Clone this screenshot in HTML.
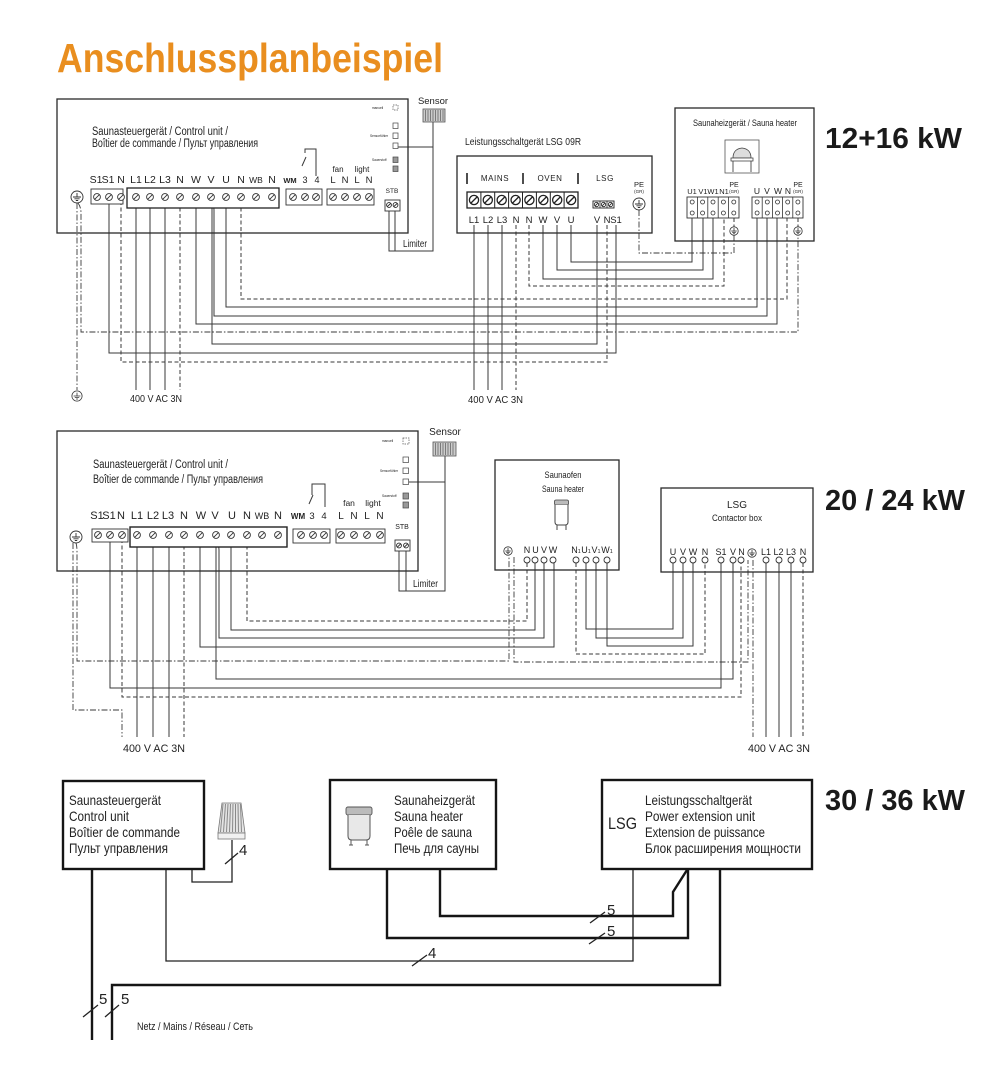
<!DOCTYPE html>
<html><head><meta charset="utf-8">
<style>
html,body{margin:0;padding:0;background:#fff}
svg{display:block}
text{font-family:"Liberation Sans","DejaVu Sans",sans-serif;fill:#222}
.s{fill:none;stroke:#3a3a3a;stroke-width:1}
.d{fill:none;stroke:#3a3a3a;stroke-width:1;stroke-dasharray:4 2.5}
.dd{fill:none;stroke:#3a3a3a;stroke-width:.9;stroke-dasharray:6 2 1.5 2}
.b{fill:none;stroke:#2a2a2a;stroke-width:1.3}
.bb{fill:none;stroke:#222;stroke-width:1.6}
.t{fill:none;stroke:#151515;stroke-width:2.4}
.tn{fill:none;stroke:#222;stroke-width:1.3}
</style></head><body>
<svg width="998" height="1080" viewBox="0 0 998 1080" xmlns="http://www.w3.org/2000/svg">
<defs>
<g id="t"><circle r="3.4" fill="#fff" stroke="#333" stroke-width=".9"/><line x1="-2.2" y1="2.2" x2="2.2" y2="-2.2" stroke="#333" stroke-width=".9"/></g>
<g id="T"><circle r="4.6" fill="#fff" stroke="#222" stroke-width="1.3"/><line x1="-3" y1="3" x2="3" y2="-3" stroke="#222" stroke-width="1.3"/></g>
<g id="st"><circle r="2.4" fill="#fff" stroke="#222" stroke-width=".9"/><line x1="-1.6" y1="1.6" x2="1.6" y2="-1.6" stroke="#222" stroke-width=".9"/></g>
<g id="o"><circle r="2" fill="#fff" stroke="#333" stroke-width=".8"/></g>
<g id="O"><circle r="3" fill="#fff" stroke="#333" stroke-width=".9"/></g>
<g id="g"><circle r="6" fill="#fff" stroke="#333" stroke-width=".9"/><path d="M0,-4V0M-4,0H4M-2.6,1.8H2.6M-1.2,3.5H1.2" stroke="#333" stroke-width=".9" fill="none"/></g>
<g id="gs"><circle r="4.2" fill="#fff" stroke="#333" stroke-width=".8"/><path d="M0,-3V0M-2.8,0H2.8M-1.8,1.3H1.8M-.8,2.5H.8" stroke="#333" stroke-width=".8" fill="none"/></g>
</defs>

<!-- Title -->
<text x="57" y="72" font-size="41" font-weight="bold" style="fill:#E98E1F" textLength="386" lengthAdjust="spacingAndGlyphs">Anschlussplanbeispiel</text>

<!-- ===================== TOP SECTION ===================== -->
<text x="825" y="148" font-size="29" font-weight="bold" style="fill:#1a1a1a" textLength="137" lengthAdjust="spacingAndGlyphs">12+16 kW</text>

<!-- wires -->
<path class="s" d="M109,201V353H616V225"/>
<path class="d" d="M121,201V362H607V225"/>
<path class="s" d="M136,201V390M150,201V390M165,201V390"/>
<path class="d" d="M180,201V390"/>
<path class="s" d="M196,201V324H777V218"/>
<path class="s" d="M211,201Q214,204 214,210V316H767V218"/>
<path class="s" d="M211,201L212,206V344H597V225"/>
<path class="s" d="M226,201V307H757V218"/>
<path class="d" d="M241,201V299H787V218"/>
<path class="dd" d="M77,203V390"/>
<path class="dd" d="M78,203Q81,207 81,213V332H798V235"/>
<path class="s" d="M474,225V390M488,225V390M502,225V390"/>
<path class="d" d="M516,225V390"/>
<path class="d" d="M529,225V286H724V218"/>
<path class="s" d="M543,225V279H713V218"/>
<path class="s" d="M557,225V270H703V218"/>
<path class="s" d="M571,225V262H692V218"/>
<path class="dd" d="M639,210V253H734V235"/>
<path class="d" d="M734,218V227M798,218V227"/>
<path class="s" d="M433,122V251H389V211M395,211V251"/>
<path class="s" d="M398,147H433"/>
<use href="#g" x="77" y="396" transform="translate(77 396) scale(.85) translate(-77 -396)"/>
<text x="130" y="402" font-size="10" textLength="52" lengthAdjust="spacingAndGlyphs">400 V AC 3N</text>
<text x="468" y="403" font-size="10" textLength="55" lengthAdjust="spacingAndGlyphs">400 V AC 3N</text>

<!-- control unit -->
<rect x="57" y="99" width="351" height="134" class="b"/>
<text x="92" y="135" font-size="11.5" textLength="136" lengthAdjust="spacingAndGlyphs">Saunasteuergerät / Control unit /</text>
<text x="92" y="147" font-size="11.5" textLength="166" lengthAdjust="spacingAndGlyphs">Boîtier de commande / Пульт управления</text>
<g font-size="10.5" text-anchor="middle">
<text x="96" y="183">S1</text><text x="108" y="183">S1</text><text x="121" y="183">N</text>
<text x="136" y="183">L1</text><text x="150" y="183">L2</text><text x="165" y="183">L3</text><text x="180" y="183">N</text>
<text x="196" y="183">W</text><text x="211" y="183">V</text><text x="226" y="183">U</text><text x="241" y="183">N</text>
<text x="256" y="183" font-size="8.5">WB</text><text x="272" y="183">N</text>
<text x="290" y="183" font-size="7.5" font-weight="bold">WM</text><text x="305" y="183" font-size="9">3</text><text x="317" y="183" font-size="9">4</text>
<text x="338" y="172" font-size="8">fan</text><text x="362" y="172" font-size="8">light</text>
<text x="333" y="183" font-size="9.5">L</text><text x="345" y="183" font-size="9.5">N</text><text x="357" y="183" font-size="9.5">L</text><text x="369" y="183" font-size="9.5">N</text>
<text x="392" y="193" font-size="6.5">STB</text>
</g>
<rect x="91" y="189" width="32" height="15" fill="#fff" stroke="#333" stroke-width=".9"/>
<rect x="127" y="188" width="152" height="20" fill="#fff" stroke="#222" stroke-width="1.3"/>
<rect x="286" y="189" width="36" height="16" fill="#fff" stroke="#333" stroke-width=".9"/>
<rect x="327" y="189" width="47" height="16" fill="#fff" stroke="#333" stroke-width=".9"/>
<use href="#t" x="97" y="197"/><use href="#t" x="109" y="197"/><use href="#t" x="121" y="197"/>
<use href="#t" x="136" y="197"/><use href="#t" x="150" y="197"/><use href="#t" x="165" y="197"/><use href="#t" x="180" y="197"/><use href="#t" x="196" y="197"/><use href="#t" x="211" y="197"/><use href="#t" x="226" y="197"/><use href="#t" x="241" y="197"/><use href="#t" x="256" y="197"/><use href="#t" x="272" y="197"/>
<use href="#t" x="293" y="197"/><use href="#t" x="305" y="197"/><use href="#t" x="316" y="197"/>
<use href="#t" x="333" y="197"/><use href="#t" x="345" y="197"/><use href="#t" x="357" y="197"/><use href="#t" x="369" y="197"/>
<path class="s" d="M305,153V149H316V176"/><path class="s" d="M302,166L306,157"/>
<rect x="385" y="200" width="15" height="11" fill="#fff" stroke="#333" stroke-width=".9"/>
<use href="#st" x="389" y="205"/><use href="#st" x="395.5" y="205"/>
<use href="#g" x="77" y="197"/>
<!-- indicators -->
<rect x="393" y="105" width="5" height="5" fill="#fff" stroke="#555" stroke-width=".7" stroke-dasharray="1.5 1"/>
<rect x="393" y="123" width="5" height="5.5" fill="#fff" stroke="#444" stroke-width=".7"/>
<rect x="393" y="133" width="5" height="5.5" fill="#fff" stroke="#444" stroke-width=".7"/>
<rect x="393" y="143" width="5" height="5.5" fill="#fff" stroke="#444" stroke-width=".7"/>
<rect x="393" y="157" width="5" height="5.5" fill="#999" stroke="#444" stroke-width=".7"/>
<rect x="393" y="166" width="5" height="5.5" fill="#999" stroke="#444" stroke-width=".7"/>
<g font-size="3.2" style="fill:#444"><text x="372" y="109">manuell</text><text x="370" y="137">Sensorfühler</text><text x="372" y="161">Sauerstoff</text></g>
<!-- sensor -->
<text x="433" y="104" font-size="9.5" text-anchor="middle">Sensor</text>
<rect x="423" y="109" width="22" height="13" fill="#ccc" stroke="#555" stroke-width=".8"/>
<path d="M425.5,110V121M428,110V121M430.5,110V121M433,110V121M435.5,110V121M438,110V121M440.5,110V121M443,110V121" stroke="#666" stroke-width=".8"/>
<text x="403" y="247" font-size="10" textLength="24" lengthAdjust="spacingAndGlyphs">Limiter</text>

<!-- LSG 09R -->
<text x="465" y="145" font-size="10.5" textLength="116" lengthAdjust="spacingAndGlyphs">Leistungsschaltgerät LSG 09R</text>
<rect x="457" y="156" width="195" height="77" class="b"/>
<path d="M467,173V184M523,173V184M578,173V184" stroke="#222" stroke-width="1.6"/>
<g font-size="8" text-anchor="middle" letter-spacing=".6">
<text x="495" y="181">MAINS</text><text x="550" y="181">OVEN</text><text x="605" y="181">LSG</text>
</g>
<rect x="467" y="192" width="111" height="16" fill="#fff" stroke="#222" stroke-width="1.3"/>
<path d="M480.9,192V208M494.7,192V208M508.6,192V208M522.5,192V208M536.4,192V208M550.3,192V208M564.1,192V208" stroke="#222" stroke-width="1"/>
<use href="#T" x="474" y="200"/><use href="#T" x="487.8" y="200"/><use href="#T" x="501.7" y="200"/><use href="#T" x="515.6" y="200"/><use href="#T" x="529.4" y="200"/><use href="#T" x="543.3" y="200"/><use href="#T" x="557.2" y="200"/><use href="#T" x="571.1" y="200"/>
<g font-size="9.5" text-anchor="middle">
<text x="474" y="223">L1</text><text x="488" y="223">L2</text><text x="502" y="223">L3</text><text x="516" y="223">N</text><text x="529" y="223">N</text><text x="543" y="223">W</text><text x="557" y="223">V</text><text x="571" y="223">U</text>
<text x="597" y="223">V</text><text x="607" y="223">N</text><text x="616" y="223">S1</text>
<text x="639" y="187" font-size="7.5">PE</text><text x="639" y="193" font-size="4.5">(GR)</text>
</g>
<rect x="593" y="201" width="21" height="7" fill="#fff" stroke="#222" stroke-width=".9"/>
<path d="M600,201V208M607,201V208" stroke="#222" stroke-width=".8"/>
<use href="#st" x="596.5" y="204.5" transform="translate(596.5 204.5) scale(.9) translate(-596.5 -204.5)"/>
<use href="#st" x="603.5" y="204.5" transform="translate(603.5 204.5) scale(.9) translate(-603.5 -204.5)"/>
<use href="#st" x="610.5" y="204.5" transform="translate(610.5 204.5) scale(.9) translate(-610.5 -204.5)"/>
<use href="#g" x="639" y="204"/>

<!-- heater top -->
<rect x="675" y="108" width="139" height="133" class="b"/>
<text x="745" y="126" font-size="9.5" text-anchor="middle" textLength="104" lengthAdjust="spacingAndGlyphs">Saunaheizgerät / Sauna heater</text>
<rect x="725" y="140" width="34" height="33" fill="#fff" stroke="#555" stroke-width=".8"/>
<path d="M733,158Q733,149 742,148Q751,149 751,158Z" fill="#ddd" stroke="#444" stroke-width=".8"/>
<rect x="731" y="158" width="22" height="3" fill="#fff" stroke="#444" stroke-width=".8"/>
<path d="M733,161V172M751,161V172" stroke="#444" stroke-width=".9"/>
<g font-size="7.5" text-anchor="middle">
<text x="692" y="194">U1</text><text x="703" y="194">V1</text><text x="713" y="194">W1</text><text x="724" y="194">N1</text>
<text x="734" y="187" font-size="7">PE</text><text x="734" y="193" font-size="4.5">(GR)</text>
<text x="757" y="194" font-size="8.5">U</text><text x="767" y="194" font-size="8.5">V</text><text x="778" y="194" font-size="8.5">W</text><text x="788" y="194" font-size="8.5">N</text>
<text x="798" y="187" font-size="7">PE</text><text x="798" y="193" font-size="4.5">(GR)</text>
</g>
<rect x="687" y="197" width="52" height="21" fill="#fff" stroke="#333" stroke-width=".9"/>
<path d="M697.4,197V218M707.8,197V218M718.2,197V218M728.6,197V218" stroke="#333" stroke-width=".8"/>
<rect x="752" y="197" width="51" height="21" fill="#fff" stroke="#333" stroke-width=".9"/>
<path d="M762.2,197V218M772.4,197V218M782.6,197V218M792.8,197V218" stroke="#333" stroke-width=".8"/>
<use href="#o" x="692.2" y="202"/><use href="#o" x="702.6" y="202"/><use href="#o" x="713" y="202"/><use href="#o" x="723.4" y="202"/><use href="#o" x="733.8" y="202"/>
<use href="#o" x="692.2" y="213"/><use href="#o" x="702.6" y="213"/><use href="#o" x="713" y="213"/><use href="#o" x="723.4" y="213"/><use href="#o" x="733.8" y="213"/>
<use href="#o" x="757.1" y="202"/><use href="#o" x="767.3" y="202"/><use href="#o" x="777.5" y="202"/><use href="#o" x="787.7" y="202"/><use href="#o" x="797.9" y="202"/>
<use href="#o" x="757.1" y="213"/><use href="#o" x="767.3" y="213"/><use href="#o" x="777.5" y="213"/><use href="#o" x="787.7" y="213"/><use href="#o" x="797.9" y="213"/>
<use href="#gs" x="734" y="231"/><use href="#gs" x="798" y="231"/>

<!-- ===================== MIDDLE SECTION ===================== -->
<text x="825" y="510" font-size="29" font-weight="bold" style="fill:#1a1a1a" textLength="140" lengthAdjust="spacingAndGlyphs">20 / 24 kW</text>

<path class="dd" d="M73,543V710H122V737"/>
<path class="dd" d="M76,543Q77,546 77,551V661H509V557"/>
<path class="dd" d="M514,557V662H748V560"/>
<path class="dd" d="M753,560V737"/>
<path class="s" d="M110,539V688H721V563"/>
<path class="d" d="M122,539V697H741V563"/>
<path class="s" d="M137,539V737M153,539V737M169,539V737"/>
<path class="d" d="M184,539V737"/>
<path class="s" d="M200,539V647H554V563"/>
<path class="s" d="M216,539Q219,544 219,550V638H544V563"/>
<path class="s" d="M216,539V679H733V563"/>
<path class="s" d="M231,539V630H535V563"/>
<path class="d" d="M247,539V621H527V563"/>
<path class="d" d="M576,563V654H705V563"/>
<path class="s" d="M586,563V629H673V563"/>
<path class="s" d="M596,563V638H683V563"/>
<path class="s" d="M607,563V646H693V563"/>
<path class="s" d="M766,563V737M779,563V737M791,563V737"/>
<path class="d" d="M803,563V737"/>
<path class="s" d="M445,456V591H399V551M406,551V591"/>
<path class="s" d="M409,482H445"/>
<text x="123" y="752" font-size="11" textLength="62" lengthAdjust="spacingAndGlyphs">400 V AC 3N</text>
<text x="748" y="752" font-size="11" textLength="62" lengthAdjust="spacingAndGlyphs">400 V AC 3N</text>

<!-- control unit mid -->
<rect x="57" y="431" width="361" height="140" class="b"/>
<text x="93" y="468" font-size="11.5" textLength="135" lengthAdjust="spacingAndGlyphs">Saunasteuergerät / Control unit /</text>
<text x="93" y="483" font-size="11.5" textLength="170" lengthAdjust="spacingAndGlyphs">Boîtier de commande / Пульт управления</text>
<g font-size="11" text-anchor="middle">
<text x="97" y="519">S1</text><text x="109" y="519">S1</text><text x="121" y="519">N</text>
<text x="137" y="519">L1</text><text x="153" y="519">L2</text><text x="168" y="519">L3</text><text x="184" y="519">N</text>
<text x="201" y="519">W</text><text x="215" y="519">V</text><text x="232" y="519">U</text><text x="247" y="519">N</text>
<text x="262" y="519" font-size="9">WB</text><text x="278" y="519">N</text>
<text x="298" y="519" font-size="8" font-weight="bold">WM</text><text x="312" y="519" font-size="9.5">3</text><text x="324" y="519" font-size="9.5">4</text>
<text x="349" y="506" font-size="8.5">fan</text><text x="373" y="506" font-size="8.5">light</text>
<text x="341" y="519" font-size="10">L</text><text x="354" y="519" font-size="10">N</text><text x="367" y="519" font-size="10">L</text><text x="380" y="519" font-size="10">N</text>
<text x="402" y="529" font-size="7">STB</text>
</g>
<rect x="92" y="529" width="36" height="13" fill="#fff" stroke="#333" stroke-width=".9"/>
<rect x="130" y="527" width="157" height="20" fill="#fff" stroke="#222" stroke-width="1.4"/>
<rect x="293" y="529" width="37" height="14" fill="#fff" stroke="#333" stroke-width=".9"/>
<rect x="336" y="529" width="49" height="14" fill="#fff" stroke="#333" stroke-width=".9"/>
<use href="#t" x="98" y="535"/><use href="#t" x="110" y="535"/><use href="#t" x="122" y="535"/>
<use href="#t" x="137" y="535"/><use href="#t" x="153" y="535"/><use href="#t" x="169" y="535"/><use href="#t" x="184" y="535"/><use href="#t" x="200" y="535"/><use href="#t" x="216" y="535"/><use href="#t" x="231" y="535"/><use href="#t" x="247" y="535"/><use href="#t" x="262" y="535"/><use href="#t" x="278" y="535"/>
<use href="#t" x="301" y="535"/><use href="#t" x="313" y="535"/><use href="#t" x="324" y="535"/>
<use href="#t" x="341" y="535"/><use href="#t" x="354" y="535"/><use href="#t" x="367" y="535"/><use href="#t" x="380" y="535"/>
<path class="s" d="M312,495V484H325V507"/><path class="s" d="M309,504L313,495"/>
<rect x="395" y="540" width="15" height="11" fill="#fff" stroke="#333" stroke-width=".9"/>
<use href="#st" x="399" y="545.5"/><use href="#st" x="406" y="545.5"/>
<use href="#g" x="76" y="537"/>
<rect x="403" y="438" width="6" height="6" fill="#fff" stroke="#555" stroke-width=".7" stroke-dasharray="1.5 1"/>
<rect x="403" y="457" width="5.5" height="5.5" fill="#fff" stroke="#444" stroke-width=".7"/>
<rect x="403" y="468" width="5.5" height="5.5" fill="#fff" stroke="#444" stroke-width=".7"/>
<rect x="403" y="479" width="5.5" height="5.5" fill="#fff" stroke="#444" stroke-width=".7"/>
<rect x="403" y="493" width="5.5" height="6" fill="#999" stroke="#444" stroke-width=".7"/>
<rect x="403" y="502" width="5.5" height="6" fill="#999" stroke="#444" stroke-width=".7"/>
<g font-size="3.2" style="fill:#444"><text x="382" y="442">manuell</text><text x="380" y="472">Sensorfühler</text><text x="382" y="497">Sauerstoff</text></g>
<text x="445" y="435" font-size="10" text-anchor="middle">Sensor</text>
<rect x="433" y="442" width="23" height="14" fill="#ccc" stroke="#555" stroke-width=".8"/>
<path d="M435.5,443V455M438,443V455M440.5,443V455M443,443V455M445.5,443V455M448,443V455M450.5,443V455M453,443V455" stroke="#666" stroke-width=".8"/>
<text x="413" y="587" font-size="10" textLength="25" lengthAdjust="spacingAndGlyphs">Limiter</text>

<!-- heater mid -->
<rect x="495" y="460" width="124" height="110" class="b"/>
<text x="563" y="478" font-size="9.5" text-anchor="middle" textLength="37" lengthAdjust="spacingAndGlyphs">Saunaofen</text>
<text x="563" y="492" font-size="9.5" text-anchor="middle" textLength="42" lengthAdjust="spacingAndGlyphs">Sauna heater</text>
<rect x="554.5" y="500" width="14" height="5" rx="1.5" fill="#bbb" stroke="#444" stroke-width=".8"/>
<path d="M555,505V522Q555,525 558,525H565Q568,525 568,522V505" fill="#fff" stroke="#444" stroke-width="1"/>
<path d="M557,525V530M566,525V530" stroke="#444" stroke-width="1"/>
<g font-size="9" text-anchor="middle">
<text x="527" y="553">N</text><text x="535.5" y="553">U</text><text x="544" y="553">V</text><text x="553" y="553">W</text>
<text x="576" y="553">N<tspan font-size="5.5">1</tspan></text><text x="586" y="553">U<tspan font-size="5.5">1</tspan></text><text x="596" y="553">V<tspan font-size="5.5">1</tspan></text><text x="607" y="553">W<tspan font-size="5.5">1</tspan></text>
</g>
<use href="#O" x="527" y="560"/><use href="#O" x="535" y="560"/><use href="#O" x="544" y="560"/><use href="#O" x="553" y="560"/>
<use href="#O" x="576" y="560"/><use href="#O" x="586" y="560"/><use href="#O" x="596" y="560"/><use href="#O" x="607" y="560"/>
<use href="#gs" x="508" y="551"/>

<!-- LSG contactor box -->
<rect x="661" y="488" width="152" height="84" class="b"/>
<text x="737" y="508" font-size="10" text-anchor="middle">LSG</text>
<text x="737" y="521" font-size="9" text-anchor="middle" textLength="50" lengthAdjust="spacingAndGlyphs">Contactor box</text>
<g font-size="9" text-anchor="middle">
<text x="673" y="555">U</text><text x="683" y="555">V</text><text x="693" y="555">W</text><text x="705" y="555">N</text>
<text x="721" y="555">S1</text><text x="733" y="555">V</text><text x="741.5" y="555">N</text>
<text x="766" y="555">L1</text><text x="778.5" y="555">L2</text><text x="791" y="555">L3</text><text x="803" y="555">N</text>
</g>
<use href="#O" x="673" y="560"/><use href="#O" x="683" y="560"/><use href="#O" x="693" y="560"/><use href="#O" x="705" y="560"/>
<use href="#O" x="721" y="560"/><use href="#O" x="733" y="560"/><use href="#O" x="741" y="560"/>
<use href="#O" x="766" y="560"/><use href="#O" x="779" y="560"/><use href="#O" x="791" y="560"/><use href="#O" x="803" y="560"/>
<use href="#gs" x="752" y="553"/>

<!-- ===================== BOTTOM SECTION ===================== -->
<text x="825" y="810" font-size="29" font-weight="bold" style="fill:#1a1a1a" textLength="140" lengthAdjust="spacingAndGlyphs">30 / 36 kW</text>

<!-- wires -->
<path class="t" d="M92,869V1040"/>
<path class="tn" d="M166,869V961H633V869"/>
<path class="t" d="M112,1040V985H720V869"/>
<path class="t" d="M387,869V938H688V869"/>
<path class="t" d="M440,869V916H673V892L687,870"/>
<path class="tn" d="M232,840V882H192V869"/>

<!-- slashes and counts -->
<path class="tn" d="M225,864L238,853M412,966L427,955M590,923L605,912M589,944L605,933M83,1017L98,1005M105,1017L119,1005" stroke-width="1.2"/>
<g font-size="15">
<text x="239" y="855">4</text>
<text x="428" y="958">4</text>
<text x="607" y="915">5</text>
<text x="607" y="936">5</text>
<text x="99" y="1004">5</text>
<text x="121" y="1004">5</text>
</g>
<text x="137" y="1030" font-size="11" textLength="116" lengthAdjust="spacingAndGlyphs">Netz / Mains / Réseau / Сеть</text>

<!-- control unit bottom -->
<rect x="63" y="781" width="141" height="88" class="t"/>
<g font-size="14">
<text x="69" y="805" textLength="92" lengthAdjust="spacingAndGlyphs">Saunasteuergerät</text>
<text x="69" y="821" textLength="60" lengthAdjust="spacingAndGlyphs">Control unit</text>
<text x="69" y="837" textLength="111" lengthAdjust="spacingAndGlyphs">Boîtier de commande</text>
<text x="69" y="853" textLength="99" lengthAdjust="spacingAndGlyphs">Пульт управления</text>
</g>
<!-- sensor bottom -->
<path d="M222,803L241,803L245,833L218,833Z" fill="#e4e4e4" stroke="#777" stroke-width=".8"/>
<path d="M223,804L220.5,832M225.5,804L223.5,832M228,804L226.5,832M230.5,804L229.5,832M233,804L232.5,832M235.5,804L235.5,832M238,804L238.5,832M240.5,804L241.5,832" stroke="#888" stroke-width="1"/>
<rect x="218" y="833" width="27" height="6" fill="#f0f0f0" stroke="#777" stroke-width=".8"/>

<!-- heater bottom -->
<rect x="330" y="780" width="166" height="89" class="t"/>
<rect x="346" y="807" width="26" height="8" rx="2" fill="#bbb" stroke="#555" stroke-width=".9"/>
<path d="M348,815V836Q348,840 352,840H366Q370,840 370,836V815" fill="#e8e8e8" stroke="#555" stroke-width="1"/>
<path d="M351,840V845M367,840V845M349,845H353M365,845H369" stroke="#555" stroke-width="1"/>
<g font-size="14">
<text x="394" y="805" textLength="81" lengthAdjust="spacingAndGlyphs">Saunaheizgerät</text>
<text x="394" y="821" textLength="69" lengthAdjust="spacingAndGlyphs">Sauna heater</text>
<text x="394" y="837" textLength="78" lengthAdjust="spacingAndGlyphs">Poêle de sauna</text>
<text x="394" y="853" textLength="85" lengthAdjust="spacingAndGlyphs">Печь для сауны</text>
</g>

<!-- LSG bottom -->
<rect x="602" y="780" width="210" height="89" class="t"/>
<text x="608" y="829" font-size="17" textLength="29" lengthAdjust="spacingAndGlyphs">LSG</text>
<g font-size="14">
<text x="645" y="805" textLength="107" lengthAdjust="spacingAndGlyphs">Leistungsschaltgerät</text>
<text x="645" y="821" textLength="110" lengthAdjust="spacingAndGlyphs">Power extension unit</text>
<text x="645" y="837" textLength="120" lengthAdjust="spacingAndGlyphs">Extension de puissance</text>
<text x="645" y="853" textLength="156" lengthAdjust="spacingAndGlyphs">Блок расширения мощности</text>
</g>
</svg>
</body></html>
